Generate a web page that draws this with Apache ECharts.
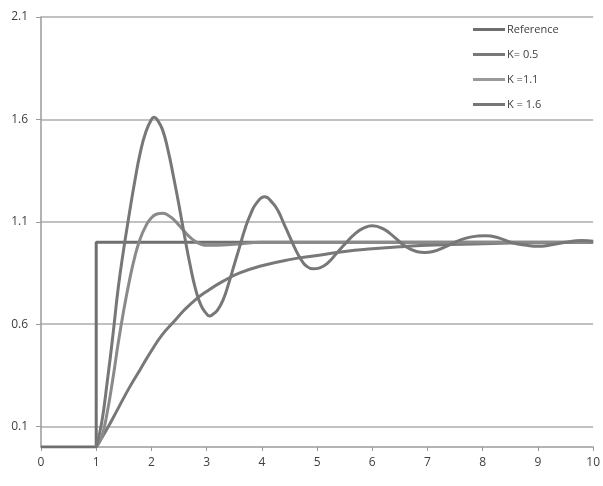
<!DOCTYPE html>
<html lang="en">
<head>
    <meta charset="UTF-8">
    <script src="https://cdn.jsdelivr.net/npm/echarts@6/dist/echarts.min.js"></script>
    <style>
        html, body { margin: 0; padding: 0; background: #fff; }
        #chart { width: 603px; height: 486px; }
    </style>
</head>
<body>
<div id="chart"></div>
<script>
    // values
    var xTicks = [0, 1, 2, 3, 4, 5, 6, 7, 8, 9, 10];
    var yTicks = [0.1, 0.6, 1.1, 1.6, 2.1];

    var refT = [0, 1, 1, 10];
    var refV = [0, 0, 1, 1];

    var k05T = [1.0, 1.2, 1.4, 1.6, 1.8, 2.0, 2.2, 2.4, 2.6, 2.8, 3.0, 3.3, 3.6, 4.0, 4.5, 5.0, 5.5, 6.0, 6.5, 7.0, 8.0, 9.0, 10];
    var k05V = [0, 0.09, 0.19, 0.29, 0.38, 0.47, 0.55, 0.61, 0.67, 0.72, 0.76, 0.81, 0.85, 0.885, 0.915, 0.935, 0.955, 0.968, 0.978, 0.985, 0.993, 0.998, 1.0];

    var k11T = [1.0, 1.1, 1.2, 1.3, 1.4, 1.5, 1.6, 1.7, 1.8, 1.9, 2.0, 2.1, 2.2, 2.3, 2.4, 2.5, 2.6, 2.7, 2.8, 2.9, 3.0, 3.2, 3.5, 4.0, 10];
    var k11V = [0, 0.05, 0.17, 0.33, 0.51, 0.67, 0.81, 0.93, 1.02, 1.08, 1.12, 1.138, 1.142, 1.132, 1.112, 1.083, 1.052, 1.024, 1.003, 0.99, 0.985, 0.985, 0.99, 1.0, 1.0];

    var k16T = [1.0, 1.1, 1.2, 1.3, 1.4, 1.5, 1.6, 1.7, 1.8, 1.9, 2.0, 2.05, 2.1, 2.2, 2.3, 2.4, 2.5, 2.6, 2.7, 2.8, 2.9, 3.0, 3.05, 3.1, 3.2, 3.3, 3.4, 3.5, 3.6, 3.7, 3.8, 3.9, 4.05, 4.2, 4.3, 4.4, 4.5, 4.6, 4.7, 4.8, 4.93, 5.05, 5.2, 5.35, 5.5, 5.7, 5.85, 6.0, 6.2, 6.4, 6.6, 6.8, 6.95, 7.1, 7.3, 7.5, 7.7, 7.9, 8.05, 8.3, 8.5, 8.8, 9.0, 9.2, 9.5, 9.8, 10];
    var k16V = [0, 0.12, 0.32, 0.54, 0.78, 0.97, 1.14, 1.30, 1.44, 1.54, 1.60, 1.61, 1.60, 1.55, 1.45, 1.32, 1.18, 1.03, 0.89, 0.77, 0.69, 0.65, 0.64, 0.645, 0.67, 0.72, 0.80, 0.89, 0.98, 1.07, 1.14, 1.19, 1.222, 1.19, 1.15, 1.09, 1.03, 0.97, 0.92, 0.885, 0.87, 0.875, 0.9, 0.945, 0.99, 1.045, 1.07, 1.08, 1.065, 1.025, 0.98, 0.955, 0.95, 0.955, 0.975, 1.0, 1.02, 1.03, 1.032, 1.02, 1.0, 0.985, 0.98, 0.985, 1.0, 1.008, 1.005];

    function pairs(t, v) {
        var out = [];
        for (var i = 0; i < t.length; i++) out.push([t[i], v[i]]);
        return out;
    }

    var mChart = echarts.init(document.getElementById('chart'));

    var font = '"Open Sans", sans-serif';
    var option = {
        animation: false,
        backgroundColor: '#ffffff',
        grid: { left: 41, right: 6, top: 17, bottom: 39 },
        legend: {
            orient: 'vertical',
            left: 468,
            top: 19,
            itemWidth: 32,
            itemHeight: 3,
            itemGap: 14,
            icon: 'rect',
            textStyle: { color: '#404040', fontSize: 11, fontFamily: font, padding: [0, 0, 0, -3] },
            data: ['Reference', 'K= 0.5', 'K =1.1', 'K = 1.6']
        },
        xAxis: {
            type: 'value',
            min: 0,
            max: 10,
            interval: 1,
            axisLine: { onZero: false, lineStyle: { color: '#9a9a9a', width: 1.5 } },
            axisTick: { show: true, length: 4, lineStyle: { color: '#9a9a9a' } },
            axisLabel: { color: '#404040', fontSize: 12, fontFamily: font, margin: 10 },
            splitLine: { show: false }
        },
        yAxis: {
            type: 'value',
            min: 0,
            max: 2.1,
            axisLine: { show: true, lineStyle: { color: '#9a9a9a', width: 1.5 } },
            axisTick: { show: true, length: 5, customValues: yTicks, lineStyle: { color: '#9a9a9a' } },
            axisLabel: { customValues: yTicks, color: '#404040', fontSize: 12, fontFamily: font, margin: 13,
                formatter: function (v) { return v.toFixed(1); } },
            splitLine: { show: true, lineStyle: { color: '#adadad', width: 1.5 } }
        },
        series: [
            {
                name: 'Reference', type: 'line', showSymbol: false, symbol: 'none',
                data: pairs(refT, refV),
                color: '#6f6f6f', lineStyle: { width: 3, color: '#6f6f6f' }
            },
            {
                name: 'K= 0.5', type: 'line', showSymbol: false, symbol: 'none', smooth: 0.5,
                data: pairs(k05T, k05V),
                color: '#787878', lineStyle: { width: 3, color: '#787878' }
            },
            {
                name: 'K =1.1', type: 'line', showSymbol: false, symbol: 'none', smooth: 0.5,
                data: pairs(k11T, k11V),
                color: '#999999', lineStyle: { width: 3, color: '#8a8a8a' }
            },
            {
                name: 'K = 1.6', type: 'line', showSymbol: false, symbol: 'none', smooth: 0.5,
                data: pairs(k16T, k16V),
                color: '#777777', lineStyle: { width: 3, color: '#777777' }
            }
        ]
    };
    mChart.setOption(option);
</script>
</body>
</html>
